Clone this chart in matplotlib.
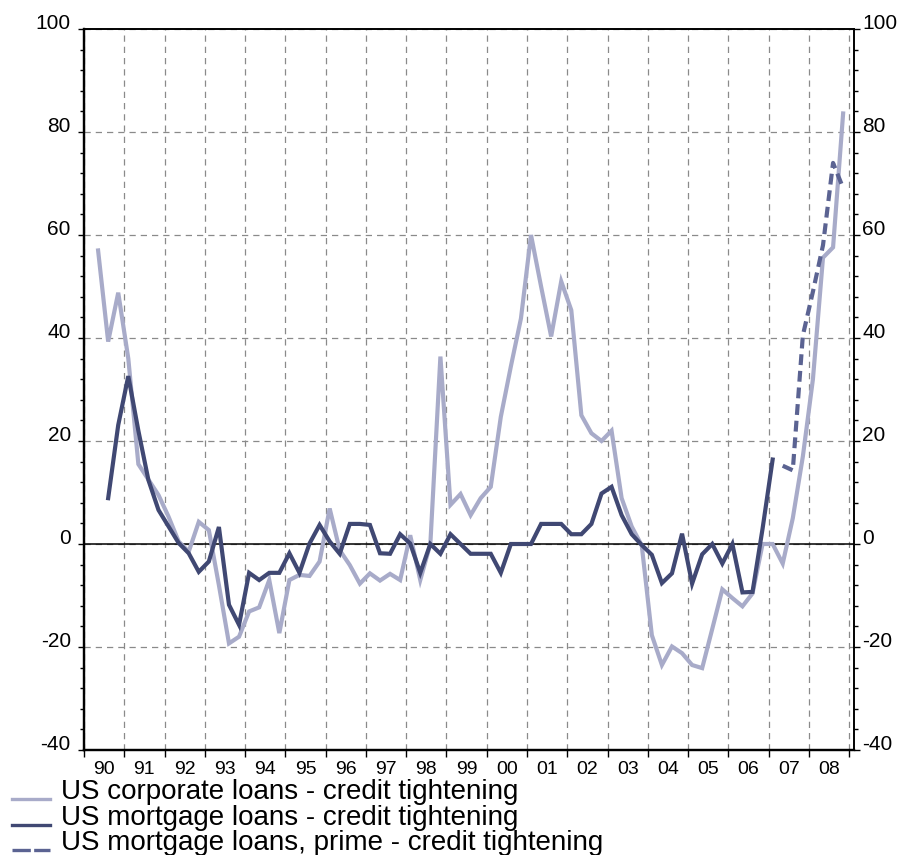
import numpy as np
import matplotlib.pyplot as plt
import pandas as pd
from matplotlib.lines import Line2D
from matplotlib.ticker import MultipleLocator, FixedLocator

plt.rcParams['font.family'] = ['Liberation Sans', 'DejaVu Sans']
plt.rcParams['axes.unicode_minus'] = False

nan = np.nan
quarters = pd.period_range('1990Q1', '2008Q4', freq='Q')

# US corporate loans - credit tightening (quarterly, 1990Q1..2008Q4)
corporate = [nan, 57.0, 39.3, 48.8, 36.0, 15.5, 12.5, 9.5, 5.3, 0.5,
             -1.5, 4.3, 2.7, -8.0, -19.3, -18.0, -13.1, -12.3, -7.0, -17.3,
             -7.0, -6.0, -6.2, -3.4, 6.9, -1.2, -4.1, -7.7, -5.7, -7.1,
             -5.8, -7.0, 1.7, -7.0, 0.0, 36.4, 7.6, 9.7, 5.6, 8.9,
             11.1, 24.7, 34.5, 43.8, 60.0, 50.0, 40.3, 51.0, 45.4, 25.0,
             21.5, 20.0, 22.0, 8.9, 3.4, -0.3, -17.7, -23.5, -19.9, -21.2,
             -23.5, -24.1, -16.5, -8.8, -10.5, -12.1, -9.6, 0.0, 0.0, -3.8,
             5.0, 17.0, 32.0, 55.6, 57.6, 83.6]

# US mortgage loans - credit tightening
mortgage = [nan, nan, 8.9, 23.1, 32.6, 22.0, 12.4, 6.6, 3.4, 0.2,
            -1.8, -5.4, -3.4, 3.3, -11.8, -15.7, -5.6, -7.0, -5.6, -5.6,
            -1.8, -5.6, 0.1, 3.7, 0.5, -1.9, 3.9, 3.9, 3.7, -1.8,
            -1.9, 1.9, 0.1, -5.6, 0.0, -1.9, 1.9, 0.0, -1.9, -1.9,
            -1.9, -5.6, 0.0, 0.0, 0.0, 3.9, 3.9, 3.9, 1.9, 1.9,
            3.9, 9.8, 11.1, 5.6, 1.9, -0.2, -2.1, -7.6, -5.7, 2.0,
            -7.7, -2.0, 0.0, -3.8, 0.0, -9.4, -9.3, 3.0, 16.4, nan,
            nan, nan, nan, nan, nan, nan]

# US mortgage loans, prime - credit tightening
prime = [nan] * 69 + [15.2, 14.3, 40.5, 49.0, 58.0, 74.0, 69.1]

year_labels = ['90', '91', '92', '93', '94', '95', '96', '97', '98', '99',
               '00', '01', '02', '03', '04', '05', '06', '07', '08']
legend_labels = ['US corporate loans - credit tightening',
                 'US mortgage loans - credit tightening',
                 'US mortgage loans, prime - credit tightening']

c_corp = '#a8abc9'
c_mort = '#404873'
c_prime = '#5b6392'

x = quarters.year + (quarters.quarter - 1) / 4 + 0.1

fig = plt.figure(figsize=(8.97, 8.55), dpi=100)
ax = fig.add_axes([84 / 897, 1 - 750 / 855, 770 / 897, 721 / 855])

ax.plot(x, corporate, color=c_corp, lw=3, solid_joinstyle='miter', zorder=3)
ax.plot(x, mortgage, color=c_mort, lw=3, solid_joinstyle='miter', zorder=4)
ax.plot(x, prime, color=c_prime, lw=3, dashes=(2.6, 1.4), zorder=5)
ax.axhline(0, color='black', lw=1.1, zorder=2)

ax.set_xlim(1990, 2009.12)
ax.set_ylim(-40, 100)

years = np.arange(1990, 2010)
ax.xaxis.set_major_locator(FixedLocator(years))
ax.xaxis.set_minor_locator(FixedLocator(years[:-1] + 0.5))
ax.set_xticklabels([], minor=False)
ax.set_xticklabels(year_labels, minor=True)
ax.tick_params(axis='x', which='major', length=5, width=1, direction='out')
ax.tick_params(axis='x', which='minor', length=0, pad=8, labelsize=14)

# same scale on the right side
ax2 = ax.twinx()
ax2.set_ylim(-40, 100)
for a, pad in [(ax, 5.5), (ax2, 1.8)]:
    a.yaxis.set_major_locator(MultipleLocator(20))
    a.yaxis.set_minor_locator(MultipleLocator(4))
    a.tick_params(axis='y', which='major', length=4, width=1, pad=pad,
                  labelsize=15, direction='out')
    a.tick_params(axis='y', which='minor', length=3, width=1, direction='out')
    for lab in a.get_yticklabels(which='major'):
        lab.set_verticalalignment('baseline')

ax.grid(True, which='major', color='#8a8a8a', lw=0.9, ls=(0, (5, 4)))

for a in [ax, ax2]:
    a.spines['left'].set_linewidth(1.6)
    a.spines['bottom'].set_linewidth(1.6)
    a.spines['top'].set_linewidth(1.2)
    a.spines['right'].set_linewidth(1.2)

# legend below the plot
rows = [799, 825, 850]
styles = [dict(color=c_corp, lw=2.4), dict(color=c_mort, lw=2.4),
          dict(color=c_prime, lw=2.4, dashes=(5.5, 1.0))]
for yy, label, st in zip(rows, legend_labels, styles):
    fy = 1 - yy / 855
    fig.add_artist(Line2D([12 / 897, 50 / 897], [fy, fy],
                          transform=fig.transFigure, **st))
    fig.text(61 / 897, fy, label, fontsize=20, va='baseline')

fig.savefig('out.png', dpi=100)
